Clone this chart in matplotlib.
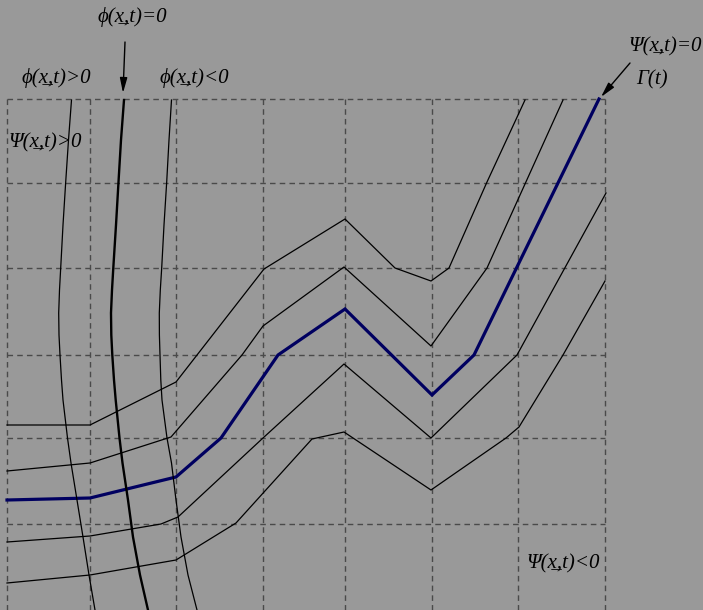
import matplotlib
matplotlib.use("Agg")
import matplotlib.pyplot as plt

# grid (pixel-like data units)
grid_x = [7, 90, 176, 263, 345, 432, 518, 605]
grid_y = [99, 183, 268, 355, 438, 524]
grid_top, grid_bottom = 99, 610

# Psi level curves (x, y)
psiA_x = [7, 90, 176, 264, 345, 395, 431, 449, 487, 525]
psiA_y = [425, 425, 382, 269, 219, 268, 281, 268, 182, 100]
psiB_x = [7, 90, 171, 242, 263, 344, 431, 487, 563]
psiB_y = [471, 463, 437, 355, 326, 267, 346, 268, 100]
psi0_x = [7, 90, 176, 221, 278, 345, 432, 474, 599]
psi0_y = [500, 498, 477, 438, 355, 309, 395, 355, 99]
psiD_x = [7, 90, 161, 178, 263, 344, 431, 517, 606]
psiD_y = [542, 536, 524, 517, 438, 364, 438, 355, 193]
psiE_x = [7, 90, 176, 236, 312, 344, 431, 506, 519, 563, 605]
psiE_y = [583, 575, 560, 523, 439, 432, 490, 438, 427, 355, 281]

# phi level curves (sampled at common heights)
phi_y = [100, 140, 182, 225, 268, 290, 313, 335, 355, 380, 400, 438, 463, 500, 537, 575, 610]
phiP_x = [71.5, 68.5, 65.7, 63, 60.7, 59.5, 58.7, 59, 60, 61.5, 63, 67.5, 71, 77, 83, 89, 95]
phi0_x = [124, 121, 118.5, 116, 113.3, 112, 111, 111.3, 112.3, 114, 115.7, 119.5, 122.5, 128, 133, 140, 148]
phiN_x = [171.5, 169, 166.7, 164, 161.7, 160.3, 159.3, 159.4, 160, 160.8, 162, 167, 171.5, 176, 181, 188, 197]

U = '\u0332'
labels = {
    'phi0': 'ϕ(x' + U + ',t)=0',
    'phiP': 'ϕ(x' + U + ',t)>0',
    'phiN': 'ϕ(x' + U + ',t)<0',
    'psiP': 'Ψ(x' + U + ',t)>0',
    'psi0': 'Ψ(x' + U + ',t)=0',
    'gamma': 'Γ(t)',
    'psiN': 'Ψ(x' + U + ',t)<0',
}

bg = '#999999'
fig = plt.figure(figsize=(7.03, 6.10), dpi=100, facecolor=bg)
ax = fig.add_axes([0, 0, 1, 1])
ax.set_facecolor(bg)
ax.set_xlim(0, 703)
ax.set_ylim(610, 0)
ax.axis('off')

gkw = dict(color='#4a4a4a', lw=1.0, dashes=(4, 3))
for gx in grid_x:
    ax.plot([gx, gx], [grid_top, grid_bottom], **gkw)
for gy in grid_y:
    ax.plot([grid_x[0], grid_x[-1]], [gy, gy], **gkw)

thin = dict(color='black', lw=0.9)
for xs, ys in [(psiA_x, psiA_y), (psiB_x, psiB_y), (psiD_x, psiD_y), (psiE_x, psiE_y)]:
    ax.plot(xs, ys, **thin)
ax.plot(psi0_x, psi0_y, color='#000060', lw=2.3, solid_joinstyle='miter')
ax.plot(phiP_x, phi_y, **thin)
ax.plot(phiN_x, phi_y, **thin)
ax.plot(phi0_x, phi_y, color='black', lw=1.7)

fs = 15
tkw = dict(fontsize=fs, ha='center', va='center', color='black',
           family=['Liberation Serif', 'DejaVu Serif'], style='italic')
ax.text(132, 17, labels['phi0'], **tkw)
ax.text(56, 78, labels['phiP'], **tkw)
ax.text(194, 78, labels['phiN'], **tkw)
ax.text(45, 143, labels['psiP'], **tkw)
ax.text(665, 47, labels['psi0'], **tkw)
ax.text(652, 80, labels['gamma'], **tkw)
ax.text(563, 564, labels['psiN'], **tkw)

akw = dict(arrowstyle='-|>,head_length=0.9,head_width=0.22', color='black', lw=1.0,
           shrinkA=0, shrinkB=0)
ax.annotate('', xy=(123, 93), xytext=(125, 42), arrowprops=akw)
ax.annotate('', xy=(601, 97), xytext=(630, 63), arrowprops=akw)

fig.savefig('out.png', dpi=100, facecolor=bg)
